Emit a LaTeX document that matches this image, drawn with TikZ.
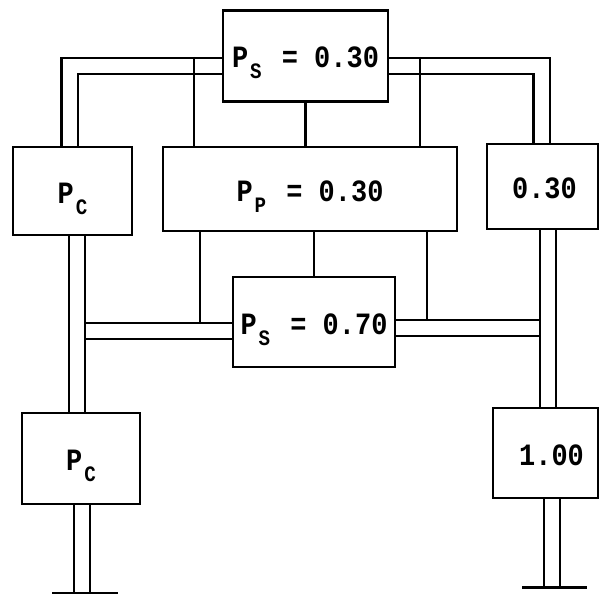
\documentclass[tikz,border=0pt]{standalone}
\usepackage{fontspec}
\newfontfamily\typewriter[FakeStretch=0.87]{Liberation Mono}
\usetikzlibrary{backgrounds}

% lowered small letter after the P
\newcommand{\subscr}[1]{\kern2pt\raisebox{-11pt}{\fontsize{22}{22}\selectfont #1}}
\newcommand{\prob}[2]{P\subscr{#1}\kern4pt{} = #2}

\begin{document}
\begin{tikzpicture}[x=1pt, y=-1pt,
    box/.style={draw, line width=2.2pt, inner sep=0pt, text height=24pt, text depth=0pt,
      font=\typewriter\bfseries\fontsize{31}{31}\selectfont},
    rail/.style={line width=2.2pt, double, double distance=14pt},
    wire/.style={line width=2.2pt},
    foot/.style={line width=3pt}]
    \useasboundingbox (0,0) rectangle (600,594);

    \node[box, minimum width=165pt, minimum height=91pt] (ps1) at (305.5,56) {\prob{S}{0.30}};
    \node[box, minimum width=119pt, minimum height=88pt] (pc1) at (72.5,191) {P\subscr{C}};
    \node[box, minimum width=294pt, minimum height=84pt] (pp) at (310,189) {\prob{P}{0.30}};
    \node[box, minimum width=111pt, minimum height=85pt] (r1) at (542.5,186.5) {\hspace*{4pt}0.30};
    \node[box, minimum width=162pt, minimum height=90pt] (ps2) at (314,322) {\prob{S}{0.70}};
    \node[box, minimum width=118pt, minimum height=91pt] (pc2) at (81,458.5) {P\subscr{C}};
    \node[box, minimum width=105pt, minimum height=90pt] (r2) at (545.5,453) {\hspace*{12pt}1.00};

    % rail centres and joints
    \coordinate (railA) at (69.5,0);
    \coordinate (railB) at (541.5,0);
    \coordinate (railC) at (77,0);
    \coordinate (railD) at (548,0);
    \coordinate (barL) at (85,331);
    \coordinate (barR) at (540,328);
    \coordinate (gndL) at (82,593);
    \coordinate (gndR) at (552,587);
    \coordinate (w1) at (194,57);
    \coordinate (w2) at (420,57);
    \coordinate (w3) at (200,323);
    \coordinate (w4) at (427,320);

    \begin{scope}[on background layer]
        \draw[rail] (ps2.west |- barL) -- (barL);
        \draw[rail] (ps2.east |- barR) -- (barR);
        \draw[rail] ([yshift=-10pt]ps1.west) -| (pc1.north -| railA);
        \draw[rail] ([yshift=-10pt]ps1.east) -| (r1.north -| railB);
        \draw[rail] (pc1.south -| railC) -- (pc2.north -| railC);
        \draw[rail] (r1.south -| railD) -- (r2.north -| railD);
        \draw[rail] (pc2.south -| gndL) -- (gndL);
        \draw[rail] (r2.south -| gndR) -- (gndR);
        \draw[foot] ([xshift=-30pt]gndL) -- ([xshift=36pt]gndL);
        \draw[foot] ([xshift=-30pt]gndR) -- ([xshift=35pt]gndR);
        % single lines
        \draw[wire] (w1) -- (w1 |- pp.north);
        \draw[wire] (w2) -- (w2 |- pp.north);
        \draw[wire] (ps1.south) -- (ps1.south |- pp.north);
        \draw[wire] (w3 |- pp.south) -- (w3);
        \draw[wire] (w4 |- pp.south) -- (w4);
        \draw[wire] (pp.south -| ps2.north) -- (ps2.north);
    \end{scope}
\end{tikzpicture}
\end{document}
